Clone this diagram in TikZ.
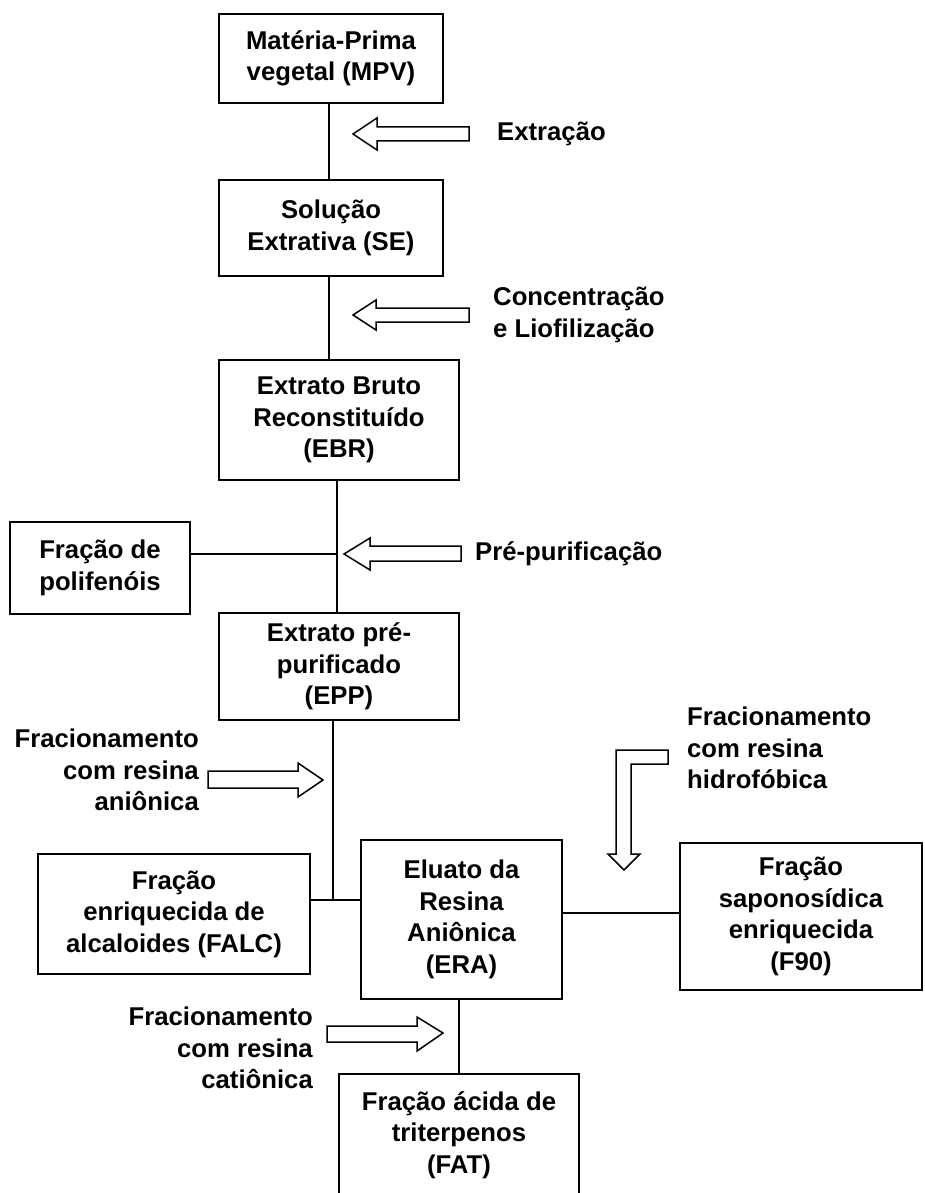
\documentclass[tikz,border=0pt]{standalone}
\usepackage{fontspec}
\setmainfont{Liberation Sans}

\begin{document}
\begin{tikzpicture}[x=1pt,y=-1pt,
  every node/.style={font=\fontsize{25.7}{31.5}\selectfont\bfseries},
  box/.style={draw,line width=2pt,align=center,inner sep=0pt},
  note/.style={inner sep=0pt},
  link/.style={line width=1.3pt},
  blockarrow/.style={draw,line width=1.5pt,line join=miter}]
  \useasboundingbox (0,0) rectangle (925,1193);

  \node[box,minimum width=224pt,minimum height=89pt] (mpv) at (331,58.5) {Matéria-Prima\\vegetal (MPV)};
  \node[box,minimum width=224pt,minimum height=96pt] (se) at (331,228) {Solução\\Extrativa (SE)};
  \node[box,minimum width=240pt,minimum height=120pt] (ebr) at (339,420) {Extrato Bruto\\Reconstituído\\(EBR)};
  \node[box,minimum width=180pt,minimum height=92pt] (pol) at (100,568) {Fração de\\polifenóis};
  \node[box,minimum width=240pt,minimum height=107pt] (epp) at (339,666.5) {Extrato pré-\\purificado\\(EPP)};
  \node[box,minimum width=272pt,minimum height=120pt] (falc) at (174,914) {Fração\\enriquecida de\\alcaloides (FALC)};
  \node[box,minimum width=201pt,minimum height=159pt] (era) at (461.5,919.5) {Eluato da\\Resina\\Aniônica\\(ERA)};
  \node[box,minimum width=242pt,minimum height=147pt] (f90) at (801,916.5) {Fração\\saponosídica\\enriquecida\\(F90)};
  \node[box,minimum width=240pt,minimum height=122pt] (fat) at (459,1135) {Fração ácida de\\triterpenos\\(FAT)};

  \node[note,anchor=west] (t1) at (497,134) {Extração};
  \node[note,anchor=west,align=left] (t2) at (493,315) {Concentração\\e Liofilização};
  \node[note,anchor=west] (t3) at (475,554) {Pré-purificação};
  \node[note,anchor=east,align=right] (t4) at (199,770) {Fracionamento\\com resina\\aniônica};
  \node[note,anchor=west,align=left] (t5) at (687,748) {Fracionamento\\com resina\\hidrofóbica};
  \node[note,anchor=east,align=right] (t6) at (313,1048) {Fracionamento\\com resina\\catiônica};

  \coordinate (j1) at (337,554);
  \coordinate (j2) at (333,900);
  \coordinate (j3) at (620,913);

  \draw[link] (mpv.south -| 329,0) -- (se.north -| 329,0);
  \draw[link] (se.south -| 329,0) -- (ebr.north -| 329,0);
  \draw[link] (ebr.south -| j1) -- (epp.north -| j1);
  \draw[link] (j1 -| pol.east) -- (j1);
  \draw[link] (epp.south -| j2) -- (j2);
  \draw[link] (j2 -| falc.east) -- (j2 -| era.west);
  \draw[link] (j3 -| era.east) -- (j3 -| f90.west);
  \draw[link] (era.south -| fat.north) -- (fat.north);

  \draw[blockarrow] (353,134) -- (377,118) -- (377,127) -- (469,127) -- (469,141) -- (377,141) -- (377,150) -- cycle;
  \draw[blockarrow] (353,315) -- (376,300) -- (376,308) -- (469,308) -- (469,322) -- (376,322) -- (376,330) -- cycle;
  \draw[blockarrow] (344,554) -- (370,538) -- (370,546) -- (461,546) -- (461,561) -- (370,561) -- (370,570) -- cycle;
  \draw[blockarrow] (323,780) -- (298,763) -- (298,771) -- (208,771) -- (208,788) -- (298,788) -- (298,797) -- cycle;
  \draw[blockarrow] (443,1033) -- (417,1017) -- (417,1026) -- (327,1026) -- (327,1042) -- (417,1042) -- (417,1051) -- cycle;
  \draw[blockarrow] (616,750) -- (668,750) -- (668,764) -- (631,764) -- (631,854) -- (640,854) -- (624,870) -- (608,854) -- (616,854) -- cycle;
\end{tikzpicture}
\end{document}
